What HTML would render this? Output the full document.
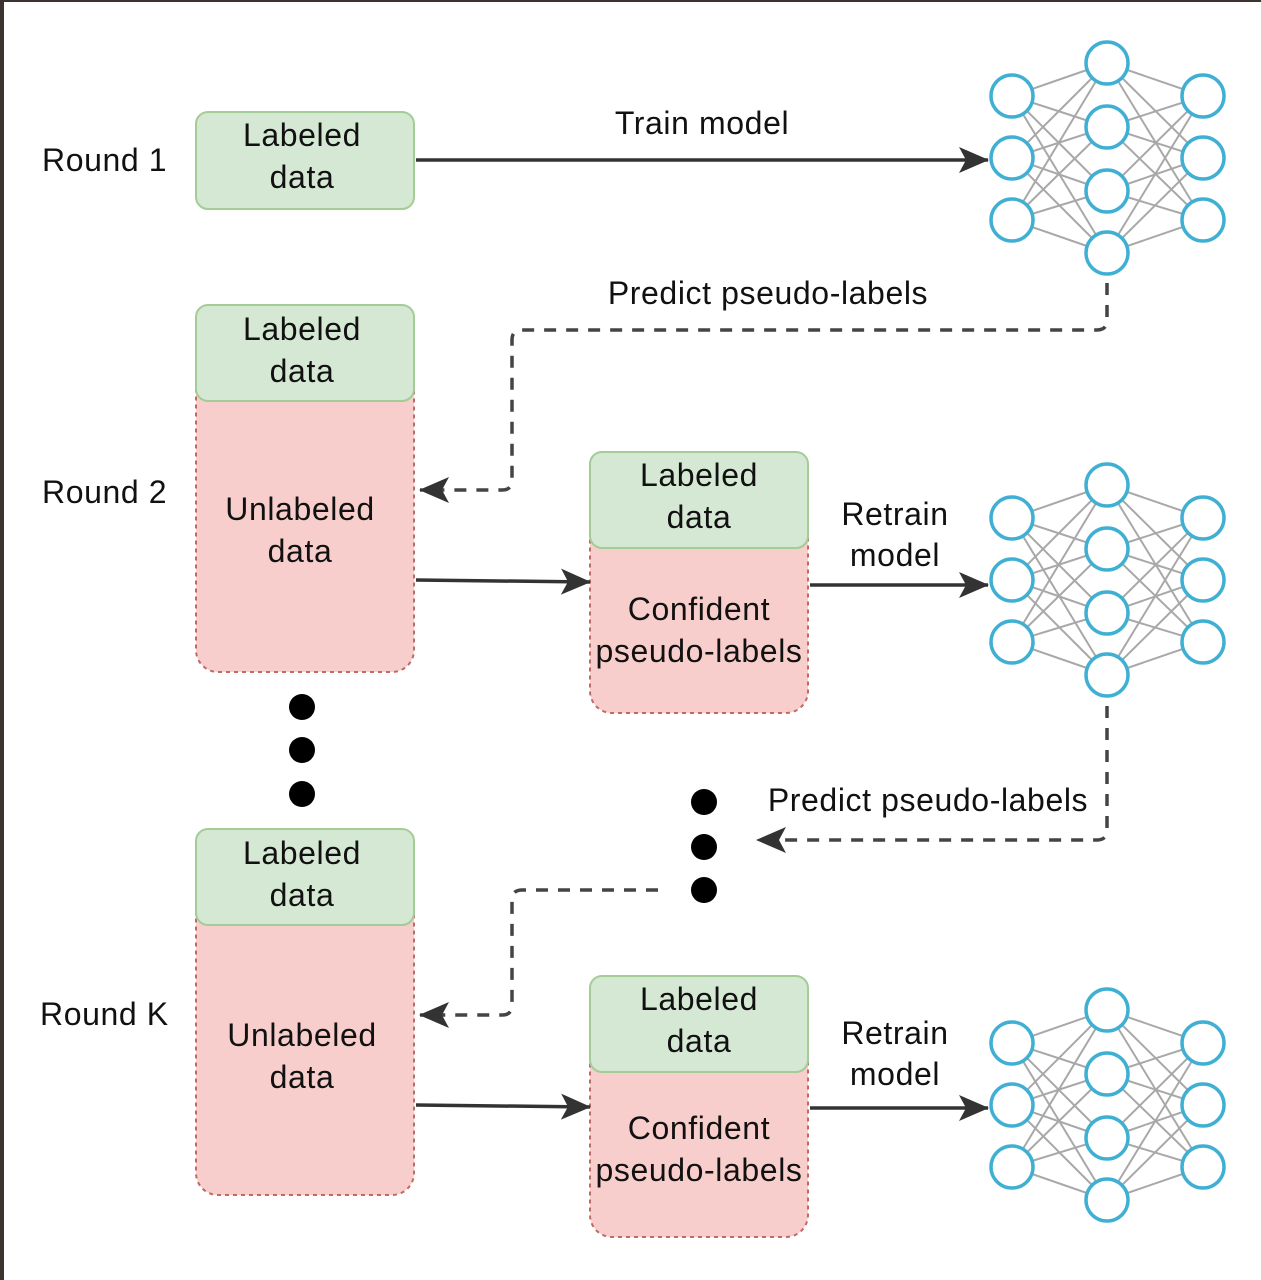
<!DOCTYPE html>
<html><head><meta charset="utf-8"><style>
html,body{margin:0;padding:0;background:#fff;}
body{width:1261px;height:1280px;overflow:hidden;}
svg{display:block;}
text{font-family:"Liberation Sans",Arial,sans-serif;font-size:32px;letter-spacing:0.6px;fill:#111;}
</style></head><body>
<svg width="1261" height="1280" viewBox="0 0 1261 1280" xmlns="http://www.w3.org/2000/svg">
<defs>
<g id="net">
<g stroke="#a8a8a8" stroke-width="2">
<line x1="1012" y1="96" x2="1107" y2="63"/><line x1="1012" y1="96" x2="1107" y2="127"/><line x1="1012" y1="96" x2="1107" y2="191"/><line x1="1012" y1="96" x2="1107" y2="253"/>
<line x1="1012" y1="158" x2="1107" y2="63"/><line x1="1012" y1="158" x2="1107" y2="127"/><line x1="1012" y1="158" x2="1107" y2="191"/><line x1="1012" y1="158" x2="1107" y2="253"/>
<line x1="1012" y1="220" x2="1107" y2="63"/><line x1="1012" y1="220" x2="1107" y2="127"/><line x1="1012" y1="220" x2="1107" y2="191"/><line x1="1012" y1="220" x2="1107" y2="253"/>
<line x1="1203" y1="96" x2="1107" y2="63"/><line x1="1203" y1="96" x2="1107" y2="127"/><line x1="1203" y1="96" x2="1107" y2="191"/><line x1="1203" y1="96" x2="1107" y2="253"/>
<line x1="1203" y1="158" x2="1107" y2="63"/><line x1="1203" y1="158" x2="1107" y2="127"/><line x1="1203" y1="158" x2="1107" y2="191"/><line x1="1203" y1="158" x2="1107" y2="253"/>
<line x1="1203" y1="220" x2="1107" y2="63"/><line x1="1203" y1="220" x2="1107" y2="127"/><line x1="1203" y1="220" x2="1107" y2="191"/><line x1="1203" y1="220" x2="1107" y2="253"/>
</g>
<g fill="#fff" stroke="#3fb0d3" stroke-width="3.5">
<circle cx="1012" cy="96" r="21"/><circle cx="1012" cy="158" r="21"/><circle cx="1012" cy="220" r="21"/>
<circle cx="1107" cy="63" r="21"/><circle cx="1107" cy="127" r="21"/><circle cx="1107" cy="191" r="21"/><circle cx="1107" cy="253" r="21"/>
<circle cx="1203" cy="96" r="21"/><circle cx="1203" cy="158" r="21"/><circle cx="1203" cy="220" r="21"/>
</g>
</g>
<marker id="ah2" viewBox="0 0 30 26" refX="29" refY="13" markerWidth="30" markerHeight="26" markerUnits="userSpaceOnUse" orient="auto">
<path d="M0,0 L30,13 L0,26 L7,13 Z" fill="#333"/>
</marker>
</defs>
<rect x="0" y="0" width="1261" height="2" fill="#3a3330"/>
<rect x="0" y="0" width="4" height="1280" fill="#3a3330"/>

<text x="42" y="171">Round 1</text>
<text x="42" y="503">Round 2</text>
<text x="40" y="1025">Round K</text>

<rect x="196" y="112" width="218" height="97" rx="12" fill="#d5e8d4" stroke="#a3cc96" stroke-width="2"/>
<text x="302" y="146" text-anchor="middle">Labeled</text>
<text x="302" y="188" text-anchor="middle">data</text>

<rect x="196" y="305" width="218" height="367" rx="22" fill="#f8cecc" stroke="#c06a66" stroke-width="2" stroke-dasharray="4,4"/>
<rect x="196" y="305" width="218" height="96" rx="12" fill="#d5e8d4" stroke="#a3cc96" stroke-width="2"/>
<text x="302" y="340" text-anchor="middle">Labeled</text>
<text x="302" y="382" text-anchor="middle">data</text>
<text x="300" y="520" text-anchor="middle">Unlabeled</text>
<text x="300" y="562" text-anchor="middle">data</text>

<rect x="590" y="452" width="218" height="261" rx="22" fill="#f8cecc" stroke="#c06a66" stroke-width="2" stroke-dasharray="4,4"/>
<rect x="590" y="452" width="218" height="96" rx="12" fill="#d5e8d4" stroke="#a3cc96" stroke-width="2"/>
<text x="699" y="486" text-anchor="middle">Labeled</text>
<text x="699" y="528" text-anchor="middle">data</text>
<text x="699" y="620" text-anchor="middle">Confident</text>
<text x="699" y="662" text-anchor="middle">pseudo-labels</text>

<rect x="196" y="829" width="218" height="366" rx="22" fill="#f8cecc" stroke="#c06a66" stroke-width="2" stroke-dasharray="4,4"/>
<rect x="196" y="829" width="218" height="96" rx="12" fill="#d5e8d4" stroke="#a3cc96" stroke-width="2"/>
<text x="302" y="864" text-anchor="middle">Labeled</text>
<text x="302" y="906" text-anchor="middle">data</text>
<text x="302" y="1046" text-anchor="middle">Unlabeled</text>
<text x="302" y="1088" text-anchor="middle">data</text>

<rect x="590" y="976" width="218" height="261" rx="22" fill="#f8cecc" stroke="#c06a66" stroke-width="2" stroke-dasharray="4,4"/>
<rect x="590" y="976" width="218" height="96" rx="12" fill="#d5e8d4" stroke="#a3cc96" stroke-width="2"/>
<text x="699" y="1010" text-anchor="middle">Labeled</text>
<text x="699" y="1052" text-anchor="middle">data</text>
<text x="699" y="1139" text-anchor="middle">Confident</text>
<text x="699" y="1181" text-anchor="middle">pseudo-labels</text>

<use href="#net"/>
<use href="#net" transform="translate(0,422)"/>
<use href="#net" transform="translate(0,947)"/>

<g stroke="#333" stroke-width="3.5" fill="none">
<line x1="416" y1="160" x2="988" y2="160" marker-end="url(#ah2)"/>
<line x1="416" y1="580" x2="590" y2="582" marker-end="url(#ah2)"/>
<line x1="810" y1="585" x2="988" y2="585" marker-end="url(#ah2)"/>
<line x1="416" y1="1105" x2="590" y2="1107" marker-end="url(#ah2)"/>
<line x1="810" y1="1108" x2="988" y2="1108" marker-end="url(#ah2)"/>
</g>
<text x="702" y="134" text-anchor="middle">Train model</text>
<text x="895" y="525" text-anchor="middle">Retrain</text>
<text x="895" y="566" text-anchor="middle">model</text>
<text x="895" y="1044" text-anchor="middle">Retrain</text>
<text x="895" y="1085" text-anchor="middle">model</text>

<g stroke="#444" stroke-width="3.5" fill="none" stroke-dasharray="12,10">
<path d="M1107,283 L1107,320 Q1107,330 1097,330 L522,330 Q512,330 512,340 L512,480 Q512,490 502,490 L420,490" marker-end="url(#ah2)"/>
<path d="M1107,706 L1107,830 Q1107,840 1097,840 L757,840" marker-end="url(#ah2)"/>
<path d="M658,890 L522,890 Q512,890 512,900 L512,1005 Q512,1015 502,1015 L420,1015" marker-end="url(#ah2)"/>
</g>
<text x="768" y="304" text-anchor="middle">Predict pseudo-labels</text>
<text x="928" y="811" text-anchor="middle">Predict pseudo-labels</text>

<g fill="#000">
<circle cx="302" cy="707" r="13"/><circle cx="302" cy="750" r="13"/><circle cx="302" cy="794" r="13"/>
<circle cx="704" cy="802" r="13"/><circle cx="704" cy="847" r="13"/><circle cx="704" cy="890" r="13"/>
</g>
</svg>
</body></html>
